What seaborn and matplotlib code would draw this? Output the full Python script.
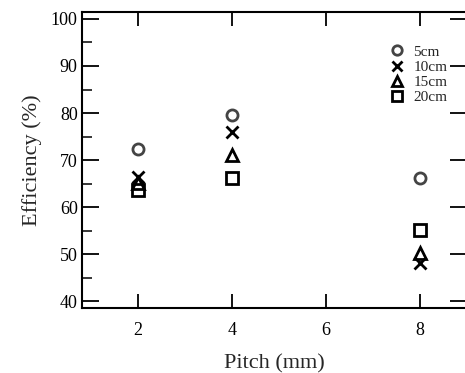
import numpy as np
import pandas as pd
import matplotlib
matplotlib.use("Agg")
import matplotlib.pyplot as plt
import seaborn as sns
from matplotlib.ticker import MultipleLocator

# data
pitch = [2, 4, 8]
eff_5cm = [72.3, 79.6, 66.1]
eff_10cm = [66.3, 75.9, 48.0]
eff_15cm = [65.2, 71.0, 50.3]
eff_20cm = [63.6, 66.1, 55.2]

series = [
    ("5cm", eff_5cm, "o", "#444444"),
    ("10cm", eff_10cm, "x", "black"),
    ("15cm", eff_15cm, "^", "black"),
    ("20cm", eff_20cm, "s", "black"),
]

sns.set_theme(style="ticks")
plt.rcParams["font.family"] = ["Liberation Serif", "DejaVu Serif"]

fig = plt.figure(figsize=(4.65, 3.73), dpi=100)
ax = fig.add_axes([0.176, 0.174, 0.828, 0.794])

for name, vals, mk, col in series:
    df = pd.DataFrame({"pitch": pitch, "eff": vals})
    sns.lineplot(data=df, x="pitch", y="eff", ax=ax, marker=mk, linestyle="",
                 color=col, markerfacecolor="none", markeredgecolor=col,
                 markeredgewidth=2, markersize=8, label=name)

ax.set_xlim(0.8, 9.0)
ax.set_ylim(38.5, 101.5)
ax.xaxis.set_major_locator(MultipleLocator(2))
ax.yaxis.set_major_locator(MultipleLocator(10))
ax.yaxis.set_minor_locator(MultipleLocator(5))

ax.tick_params(axis="both", which="major", direction="in", width=1.3,
               labelsize=13, colors="black", top=True, right=True)
ax.tick_params(axis="y", which="major", length=12, pad=3)
ax.tick_params(axis="x", which="major", length=10, pad=10)
ax.tick_params(axis="y", which="minor", direction="in", length=7, width=1.3,
               left=True, right=False)
for sp in ax.spines.values():
    sp.set_linewidth(1.5)
    sp.set_color("black")

ax.set_xlabel("Pitch (mm)", fontsize=16, labelpad=11)
ax.set_ylabel("Efficiency (%)", fontsize=16, labelpad=6)

leg = ax.legend(loc="upper right", bbox_to_anchor=(0.985, 0.935), frameon=False,
                fontsize=11, handlelength=1.0, handletextpad=0.6,
                labelspacing=0.1, markerscale=0.85)

fig.savefig("out.png", dpi=100)
